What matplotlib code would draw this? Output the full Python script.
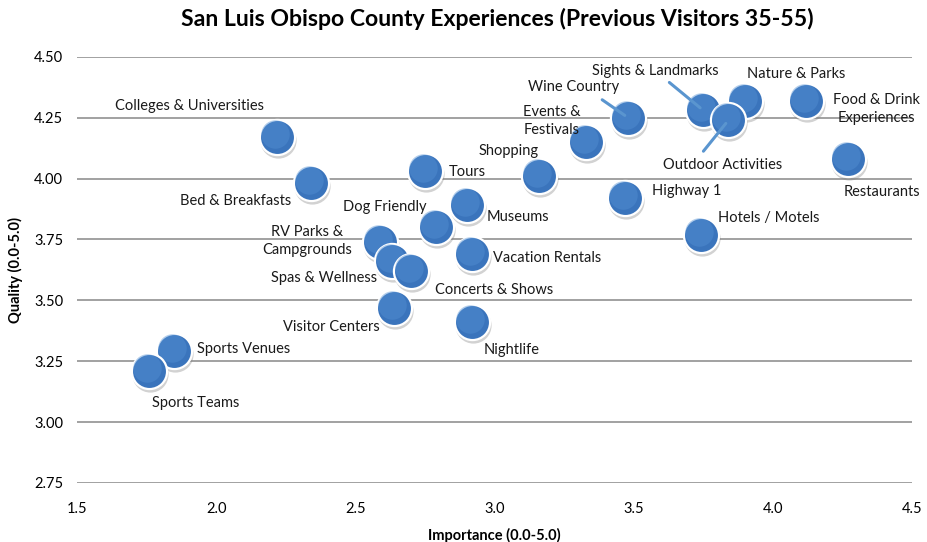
import numpy as np
import matplotlib.pyplot as plt
from matplotlib.transforms import offset_copy

plt.rcParams['font.family'] = ['Lato', 'DejaVu Sans']

# experience, importance, quality
names = ['Colleges & Universities', 'Bed & Breakfasts', 'Tours', 'Shopping',
         'Events &\nFestivals', 'Wine Country', 'Sights & Landmarks', 'Nature & Parks',
         'Outdoor Activities', 'Food & Drink\nExperiences', 'Restaurants', 'Highway 1',
         'Hotels / Motels', 'Museums', 'Dog Friendly', 'Vacation Rentals',
         'RV Parks &\nCampgrounds', 'Spas & Wellness', 'Concerts & Shows',
         'Visitor Centers', 'Nightlife', 'Sports Venues', 'Sports Teams']
importance = [2.22, 2.34, 2.75, 3.16, 3.33, 3.48, 3.75, 3.90, 3.84, 4.12, 4.27,
              3.47, 3.74, 2.90, 2.79, 2.92, 2.59, 2.63, 2.70, 2.64, 2.92, 1.85, 1.76]
quality = [4.17, 3.98, 4.03, 4.01, 4.15, 4.25, 4.28, 4.32, 4.24, 4.32, 4.08,
           3.92, 3.77, 3.89, 3.80, 3.69, 3.74, 3.66, 3.62, 3.47, 3.41, 3.29, 3.21]

# label offsets in pixels from the bubble centre
label_dx = [-88, -75, 42, -30, -35, -55, -48, 51, -6, 70, 34, 61, 68, 51, -51, 75,
            -73, -67, 83, -63, 39, 69, 46]
label_dy = [31, -18, -1, 25, 21, 31, 39, 27, -45, -8, -33, 7, 17, -12, 20, -4,
            1, -17, -19, -19, -28, 2, -32]
# names with a leader line to the bubble
leaders = {'Wine Country': (-26, 18), 'Sights & Landmarks': (-34, 28),
           'Outdoor Activities': (-25, -31)}

fig = plt.figure(figsize=(9.27, 5.42), dpi=100)
ax = fig.add_axes([0.083, 0.109, 0.901, 0.786])

ax.set_xlim(1.5, 4.5)
ax.set_ylim(2.75, 4.5)
ax.set_xticks(np.arange(1.5, 4.51, 0.5))
ax.set_yticks(np.arange(2.75, 4.51, 0.25))
ax.set_xticklabels(['%.1f' % v for v in np.arange(1.5, 4.51, 0.5)], fontsize=10.5)
ax.set_yticklabels(['%.2f' % v for v in np.arange(2.75, 4.51, 0.25)], fontsize=10.5)
ax.tick_params(length=0, pad=10)
ax.tick_params(axis='x', pad=14)
ax.grid(axis='y', color='#9a9a9a', linewidth=1.3)
ax.set_axisbelow(True)
for s in ax.spines.values():
    s.set_visible(False)

shadow = offset_copy(ax.transData, fig=fig, x=1, y=-3, units='dots')
hilite = offset_copy(ax.transData, fig=fig, x=-2, y=3, units='dots')

for i, n in enumerate(names):
    x, y = importance[i], quality[i]
    z = 3 + i * 4
    ax.scatter([x], [y], s=680, color='#7f7f7f', alpha=0.35, linewidths=0,
               transform=shadow, zorder=z)
    ax.scatter([x], [y], s=640, color='#3a74bc', edgecolors='white',
               linewidths=1.6, zorder=z + 1)
    ax.scatter([x], [y], s=420, color='#5390d3', alpha=0.45, linewidths=0,
               transform=hilite, zorder=z + 2)
    if n in leaders:
        lx, ly = leaders[n]
        ax.annotate('', (x, y), xytext=(lx, ly), textcoords='offset pixels',
                    arrowprops=dict(arrowstyle='-', color='#5a95cf', lw=2.2,
                                    shrinkA=0, shrinkB=3), zorder=z + 3)

for i, n in enumerate(names):
    ax.annotate(n, (importance[i], quality[i]), xytext=(label_dx[i], label_dy[i]),
                textcoords='offset pixels', ha='center', va='center',
                fontsize=10.5, color='#1a1a1a', zorder=200, linespacing=1.35)

ax.set_xlabel('Importance (0.0-5.0)', fontsize=10.5, fontweight='bold', labelpad=8)
ax.set_ylabel('Quality (0.0-5.0)', fontsize=10.5, fontweight='bold', labelpad=8)
fig.suptitle('San Luis Obispo County Experiences (Previous Visitors 35-55)',
             fontsize=16.6, fontweight='bold', x=0.537, y=0.985)

fig.savefig('out.png', dpi=100)
